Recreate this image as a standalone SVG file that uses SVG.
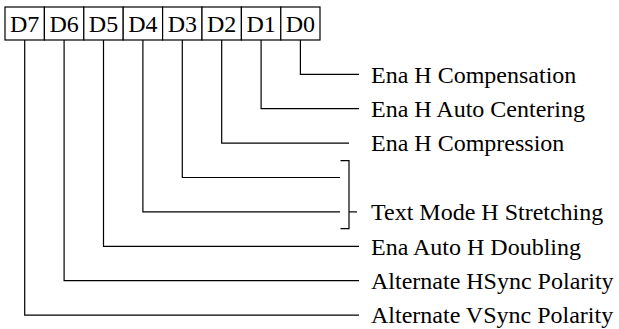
<svg xmlns="http://www.w3.org/2000/svg" width="619" height="329" viewBox="0 0 619 329">
<style>
.b{fill:#fff;stroke:#000;stroke-width:1.2}
.c{fill:none;stroke:#000;stroke-width:1.2}
.t{font-family:"Liberation Serif","Times New Roman",serif;font-size:24px;fill:#000}
.m{text-anchor:middle}
</style>
<rect width="619" height="329" fill="#fff"/>
<g id="register">
<g id="D7"><rect class="b" x="5" y="7" width="39.4" height="33"/><text class="t m" x="24.7" y="32">D7</text></g>
<g id="D6"><rect class="b" x="44.4" y="7" width="39.4" height="33"/><text class="t m" x="64.1" y="32">D6</text></g>
<g id="D5"><rect class="b" x="83.8" y="7" width="39.4" height="33"/><text class="t m" x="103.5" y="32">D5</text></g>
<g id="D4"><rect class="b" x="123.2" y="7" width="39.4" height="33"/><text class="t m" x="142.9" y="32">D4</text></g>
<g id="D3"><rect class="b" x="162.6" y="7" width="39.4" height="33"/><text class="t m" x="182.3" y="32">D3</text></g>
<g id="D2"><rect class="b" x="202" y="7" width="39.4" height="33"/><text class="t m" x="221.7" y="32">D2</text></g>
<g id="D1"><rect class="b" x="241.4" y="7" width="39.4" height="33"/><text class="t m" x="261.1" y="32">D1</text></g>
<g id="D0"><rect class="b" x="280.8" y="7" width="39.2" height="33"/><text class="t m" x="300.4" y="32">D0</text></g>
</g>
<g id="connectors">
<polyline class="c" points="300.4,40 300.4,74.3 359,74.3"/>
<polyline class="c" points="261.1,40 261.1,108.7 359,108.7"/>
<polyline class="c" points="221.7,40 221.7,143.1 349,143.1"/>
<polyline class="c" points="182.3,40 182.3,177.5 340,177.5"/>
<polyline class="c" points="142.9,40 142.9,211.9 340,211.9"/>
<polyline class="c" points="103.5,40 103.5,246.3 359,246.3"/>
<polyline class="c" points="64.1,40 64.1,280.7 359,280.7"/>
<polyline class="c" points="24.7,40 24.7,315.1 359,315.1"/>
<polyline class="c" points="340.5,160.7 349,160.7 349,228.6 340.5,228.6"/>
<line class="c" x1="349" y1="211.9" x2="357" y2="211.9"/>
</g>
<g id="labels">
<text class="t" x="371" y="82.6">Ena H Compensation</text>
<text class="t" x="371" y="117">Ena H Auto Centering</text>
<text class="t" x="371" y="151.4">Ena H Compression</text>
<text class="t" x="371" y="220.2">Text Mode H Stretching</text>
<text class="t" x="371" y="254.6">Ena Auto H Doubling</text>
<text class="t" x="371" y="289">Alternate HSync Polarity</text>
<text class="t" x="371" y="323.4">Alternate VSync Polarity</text>
</g>
</svg>
